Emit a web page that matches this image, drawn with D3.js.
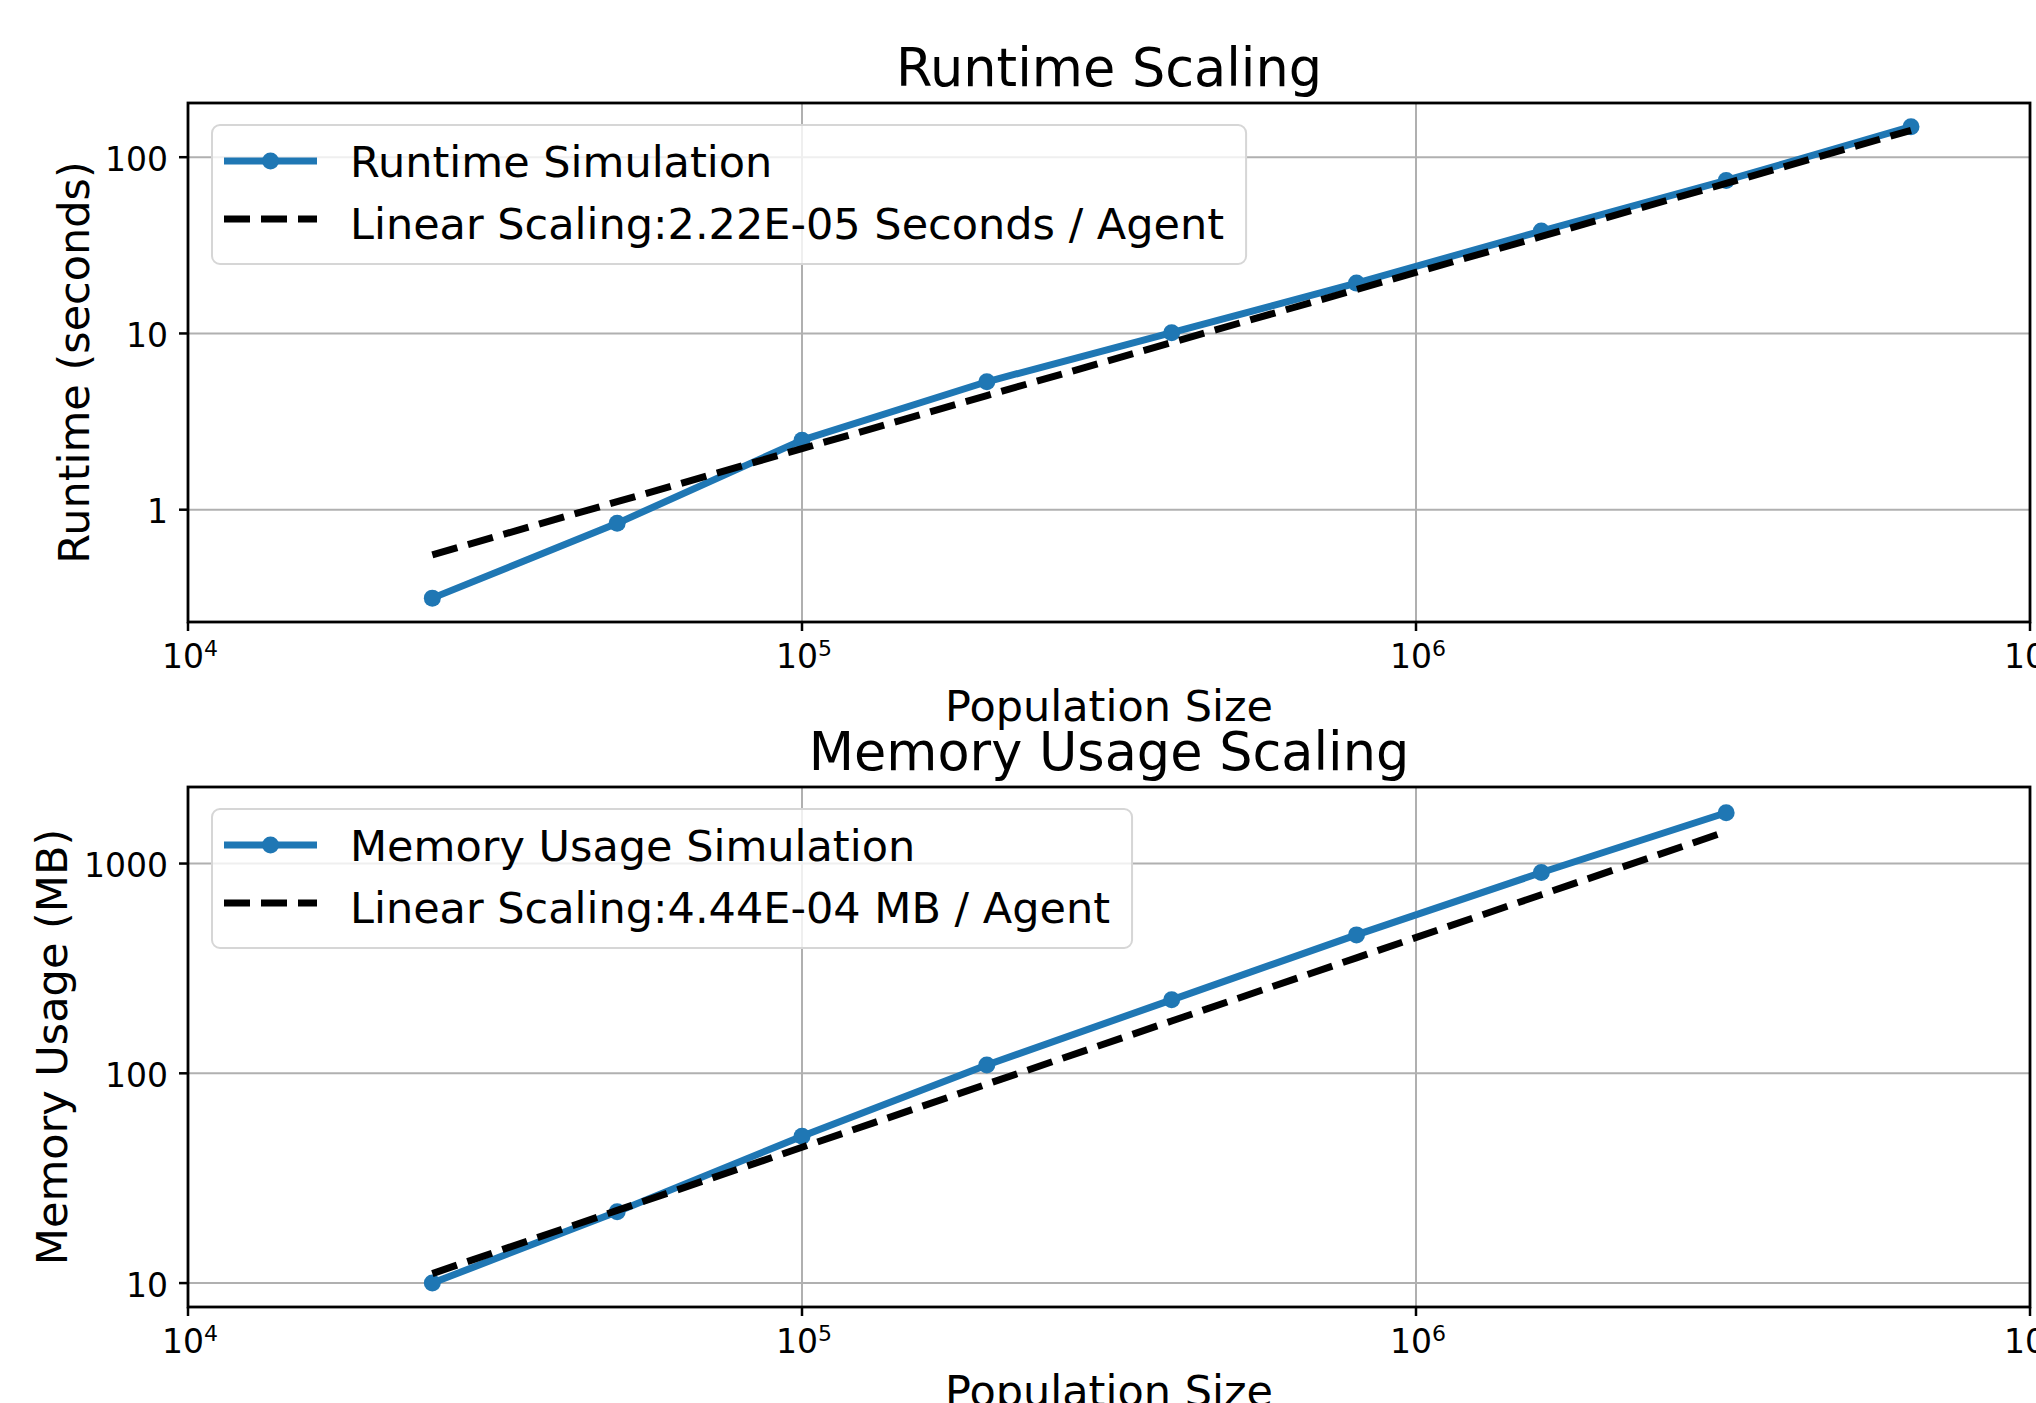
<!DOCTYPE html>
<html>
<head>
<meta charset="utf-8">
<script src="https://cdn.jsdelivr.net/npm/d3@7"></script>
<style>
  html, body { margin: 0; padding: 0; background: #ffffff; }
  svg { display: block; font-family: "DejaVu Sans", sans-serif; }
</style>
</head>
<body>
<script>
// ---------------- data ----------------
const runtimePopulation = [25000, 50000, 100000, 200000, 400000, 800000, 1600000, 3200000, 6400000];
const runtimeSimulation = [0.315, 0.837, 2.48, 5.32, 10.1, 19.3, 38.1, 73.8, 149];
const runtimeLinear     = [0.555, 1.11, 2.22, 4.44, 8.88, 17.76, 35.52, 71.04, 142.08];

const memoryPopulation = [25000, 50000, 100000, 200000, 400000, 800000, 1600000, 3200000];
const memorySimulation = [10.0, 21.9, 50.1, 109.6, 224, 457, 906, 1746];
const memoryLinear     = [11.1, 22.2, 44.4, 88.8, 177.6, 355.2, 710.4, 1420.8];

const xTickValues = [1e4, 1e5, 1e6, 1e7];
const xTickExponents = ["4", "5", "6", "7"];
const runtimeYTicks = [1, 10, 100];
const runtimeYTickLabels = ["1", "10", "100"];
const memoryYTicks = [10, 100, 1000];
const memoryYTickLabels = ["10", "100", "1000"];

const runtimeTitle = "Runtime Scaling";
const memoryTitle = "Memory Usage Scaling";
const xLabel = "Population Size";
const runtimeYLabel = "Runtime (seconds)";
const memoryYLabel = "Memory Usage (MB)";
const runtimeLegend = ["Runtime Simulation", "Linear Scaling:2.22E-05 Seconds / Agent"];
const memoryLegend = ["Memory Usage Simulation", "Linear Scaling:4.44E-04 MB / Agent"];

// ---------------- layout ----------------
const W = 2036, H = 1403;
const BLUE = "#1f77b4";
const svg = d3.select("body").append("svg").attr("width", W).attr("height", H);
svg.append("rect").attr("width", W).attr("height", H).attr("fill", "#fff");

function panel(cfg) {
  const {left, right, top, bottom, yDomain, pop, sim, lin, yTicks, yTickLabels,
         title, yLabel, yLabelX, legendLabels} = cfg;
  const g = svg.append("g");
  const x = d3.scaleLog().domain([1e4, 1e7]).range([left, right]);
  const y = d3.scaleLog().domain(yDomain).range([bottom, top]);

  // grid
  g.selectAll(".gx").data(xTickValues).enter().append("line")
    .attr("x1", d => x(d)).attr("x2", d => x(d)).attr("y1", top).attr("y2", bottom)
    .attr("stroke", "#b0b0b0").attr("stroke-width", 2);
  g.selectAll(".gy").data(yTicks).enter().append("line")
    .attr("x1", left).attr("x2", right).attr("y1", d => y(d)).attr("y2", d => y(d))
    .attr("stroke", "#b0b0b0").attr("stroke-width", 2);

  // series
  const line = d3.line().x((d, i) => x(pop[i])).y(d => y(d));
  g.append("path").datum(sim).attr("d", line).attr("fill", "none")
    .attr("stroke", BLUE).attr("stroke-width", 7).attr("stroke-linejoin", "round").attr("stroke-linecap", "butt");
  g.selectAll(".pt").data(sim).enter().append("circle")
    .attr("cx", (d, i) => x(pop[i])).attr("cy", d => y(d)).attr("r", 8.5).attr("fill", BLUE);
  g.append("path").datum(lin).attr("d", line).attr("fill", "none")
    .attr("stroke", "#000").attr("stroke-width", 7).attr("stroke-dasharray", "26,11");

  // spines
  g.append("rect").attr("x", left).attr("y", top).attr("width", right - left).attr("height", bottom - top)
    .attr("fill", "none").attr("stroke", "#000").attr("stroke-width", 2.8);

  // x ticks
  xTickValues.forEach((v, i) => {
    g.append("line").attr("x1", x(v)).attr("x2", x(v)).attr("y1", bottom).attr("y2", bottom + 9)
      .attr("stroke", "#000").attr("stroke-width", 2.5);
    const t = g.append("text").attr("x", x(v) + 2).attr("y", bottom + 46)
      .attr("text-anchor", "middle").attr("font-size", 33).attr("fill", "#000");
    t.append("tspan").text("10");
    t.append("tspan").attr("font-size", 22).attr("dy", -12).text(xTickExponents[i]);
  });
  // y ticks
  yTicks.forEach((v, i) => {
    g.append("line").attr("x1", left - 9).attr("x2", left).attr("y1", y(v)).attr("y2", y(v))
      .attr("stroke", "#000").attr("stroke-width", 2.5);
    g.append("text").attr("x", left - 20).attr("y", y(v) + 13.5)
      .attr("text-anchor", "end").attr("font-size", 33).attr("fill", "#000").text(yTickLabels[i]);
  });

  // title & labels
  const cx = (left + right) / 2;
  g.append("text").attr("x", cx).attr("y", top - 17).attr("text-anchor", "middle")
    .attr("font-size", 52.5).attr("fill", "#000").text(title);
  g.append("text").attr("x", cx).attr("y", bottom + 99).attr("text-anchor", "middle")
    .attr("font-size", 43).attr("fill", "#000").text(xLabel);
  g.append("text").attr("transform", `translate(${yLabelX},${(top + bottom) / 2}) rotate(-90)`)
    .attr("text-anchor", "middle").attr("font-size", 43).attr("fill", "#000").text(yLabel);

  // legend
  const lx = 212, ly = top + 22;
  const lg = g.append("g");
  const box = lg.append("rect").attr("x", lx).attr("y", ly).attr("height", 139).attr("rx", 8)
    .attr("fill", "#fff").attr("fill-opacity", 0.8).attr("stroke", "#d6d6d6").attr("stroke-width", 2);
  const rowY = [ly + 36, ly + 98];
  const hx0 = 224, hx1 = 317;
  lg.append("line").attr("x1", hx0).attr("x2", hx1).attr("y1", rowY[0]).attr("y2", rowY[0])
    .attr("stroke", BLUE).attr("stroke-width", 7);
  lg.append("circle").attr("cx", (hx0 + hx1) / 2).attr("cy", rowY[0]).attr("r", 8.5).attr("fill", BLUE);
  lg.append("line").attr("x1", hx0).attr("x2", hx1).attr("y1", rowY[1] - 4).attr("y2", rowY[1] - 4)
    .attr("stroke", "#000").attr("stroke-width", 7).attr("stroke-dasharray", "26,11");
  let maxW = 0;
  legendLabels.forEach((s, i) => {
    const t = lg.append("text").attr("x", 350).attr("y", rowY[i] + 15.5)
      .attr("font-size", 43).attr("fill", "#000").text(s);
    maxW = Math.max(maxW, t.node().getComputedTextLength());
  });
  box.attr("width", 350 + maxW + 22 - lx);
}

panel({
  left: 188, right: 2030, top: 103, bottom: 622,
  yDomain: [0.2306, 203],
  pop: runtimePopulation, sim: runtimeSimulation, lin: runtimeLinear,
  yTicks: runtimeYTicks, yTickLabels: runtimeYTickLabels,
  title: runtimeTitle, yLabel: runtimeYLabel, yLabelX: 89, legendLabels: runtimeLegend
});
panel({
  left: 188, right: 2030, top: 787, bottom: 1307,
  yDomain: [7.69, 2317],
  pop: memoryPopulation, sim: memorySimulation, lin: memoryLinear,
  yTicks: memoryYTicks, yTickLabels: memoryYTickLabels,
  title: memoryTitle, yLabel: memoryYLabel, yLabelX: 67, legendLabels: memoryLegend
});
</script>
</body>
</html>
